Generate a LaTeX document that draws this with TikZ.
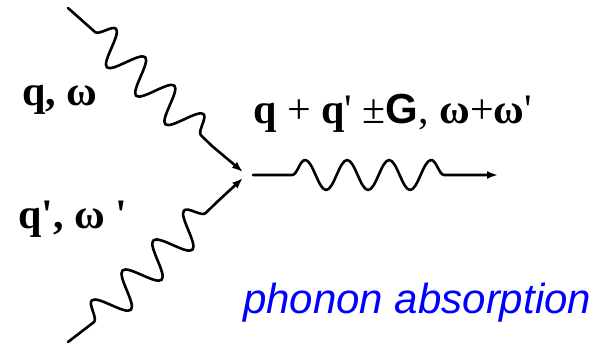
\documentclass[tikz,border=0pt]{standalone}
\usepackage{fontspec}
\setmainfont{Liberation Serif}[Ligatures=TeXOff]
\newfontfamily\arialfont{Liberation Sans}
\usetikzlibrary{decorations.pathmorphing,arrows.meta}
\tikzset{
  wave/.style={line width=2.6pt, line join=round, line cap=round,
     -{Latex[length=11pt,width=8pt]}},
  snk/.style 2 args={decoration={snake, segment length=#1, amplitude=#2}},
  lbl/.style={anchor=base west, inner sep=0pt, font=\fontsize{42}{50}\selectfont}
}
\begin{document}
\begin{tikzpicture}[x=1pt,y=-1pt]
\useasboundingbox (0,0) rectangle (607,343);
% top incoming phonon
\coordinate (t1) at (68,8);
\coordinate (t2) at (95,32);
\coordinate (t3) at (212,146);
\coordinate (t4) at (243,172);
% bottom incoming phonon
\coordinate (b1) at (68,342);
\coordinate (b2) at (94,322);
\coordinate (b3) at (217,202);
\coordinate (b4) at (243,178);
% outgoing phonon
\coordinate (r1) at (253,175);
\coordinate (r2) at (292,175);
\coordinate (r3) at (460,175);
\coordinate (r4) at (498,175);
\draw[wave] (t1) -- (t2) decorate[snk={40.8pt}{17pt}]{-- (t3)} -- (t4);
\draw[wave] (b1) -- (b2) decorate[snk={43pt}{17pt}]{-- (b3)} -- (b4);
\draw[wave] (r1) -- (r2) decorate[snk={42pt}{15pt}]{-- (r3)} -- (r4);
\node[lbl] (l1) at (22,105) {\textbf{q, ω}};
\node[lbl] (l2) at (253,123) {\textbf{q} + \textbf{q}' ±{\arialfont\bfseries G}, \textbf{ω}+\textbf{ω}'};
\node[lbl] (l3) at (18,228) {\textbf{q', ω '}};
\node[lbl, font=\arialfont\itshape\fontsize{42}{50}\selectfont, text={rgb,255:red,0;green,0;blue,255}] (l4) at (243,313) {phonon absorption};
\end{tikzpicture}
\end{document}
